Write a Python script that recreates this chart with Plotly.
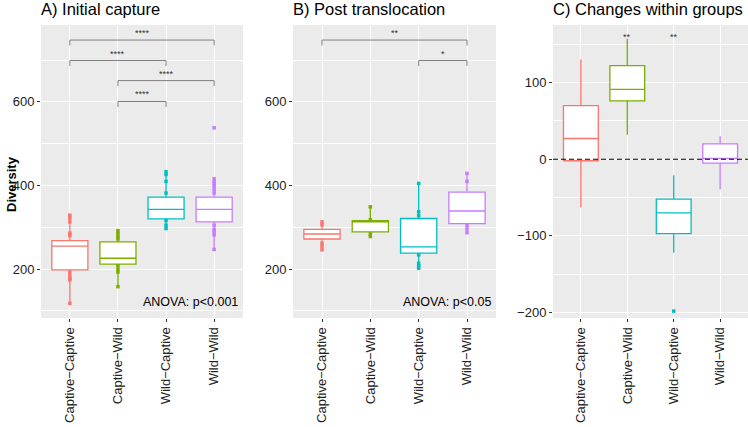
import plotly.graph_objects as go

groups = ["Captive\u2212Captive", "Captive\u2212Wild", "Wild\u2212Captive", "Wild\u2212Wild"]
colors = ["#F8766D", "#7CAE00", "#00BFC4", "#C77CFF"]

# Panel A: Initial capture
a_q1 = [198, 212, 320, 313]
a_med = [255, 226, 343, 343]
a_q3 = [268, 265, 372, 372]
a_lo = [118, 158, 297, 247]
a_hi = [329, 292, 433, 416]
a_pts = [
    [329, 322, 313, 286, 280, 193, 185, 178, 174, 118],
    [292, 285, 278, 272, 208, 200, 193, 158],
    [433, 426, 410, 382, 316, 305, 297],
    [538, 416, 410, 404, 398, 390, 382, 305, 295, 290, 282, 247],
]
a_brackets = [(0, 3, 748, "****"), (0, 2, 699, "****"), (1, 3, 651, "****"), (1, 2, 601, "****")]

# Panel B: Post translocation
b_q1 = [272, 289, 238, 309]
b_med = [284, 313, 253, 339]
b_q3 = [295, 316, 321, 384]
b_lo = [246, 277, 202, 286]
b_hi = [313, 349, 405, 429]
b_pts = [
    [313, 306, 262, 255, 246],
    [349, 318, 284, 278],
    [405, 337, 328, 234, 214, 208, 202],
    [429, 410, 305, 296, 287],
]
b_brackets = [(0, 3, 748, "**"), (2, 3, 699, "*")]

# Panel C: Changes within groups
c_q1 = [-2, 76, -97, -5]
c_med = [27, 91, -70, 1]
c_q3 = [70, 122, -52, 20]
c_lo = [-63, 32, -122, -39]
c_hi = [130, 157, -21, 30]
c_out = [[], [], [-198], []]
c_signif = [(1, "**"), (2, "**")]

W, H = 748, 427
xdom = {"A": [41 / W, 243 / W], "B": [293 / W, 496 / W], "C": [553 / W, 1.0]}
ydom = [1 - 318 / H, 1 - 25 / H]

FONT = "Liberation Sans, Arial, sans-serif"
fig = go.Figure()

panels = [
    ("x", "y", a_q1, a_med, a_q3, a_lo, a_hi, a_pts),
    ("x2", "y2", b_q1, b_med, b_q3, b_lo, b_hi, b_pts),
    ("x3", "y3", c_q1, c_med, c_q3, c_lo, c_hi, c_out),
]
for xa, ya, q1, med, q3, lo, hi, pts in panels:
    for i, g in enumerate(groups):
        fig.add_trace(go.Box(
            x=[g], q1=[q1[i]], median=[med[i]], q3=[q3[i]],
            lowerfence=[lo[i]], upperfence=[hi[i]],
            fillcolor="white", line=dict(color=colors[i], width=1.3),
            width=0.75, whiskerwidth=0, boxpoints=False,
            xaxis=xa, yaxis=ya, showlegend=False, hoverinfo="skip"))
        if pts[i]:
            fig.add_trace(go.Scatter(
                x=[g] * len(pts[i]), y=pts[i], mode="markers",
                marker=dict(symbol="square", size=3.5, color=colors[i], line=dict(width=0)),
                xaxis=xa, yaxis=ya, showlegend=False, hoverinfo="skip"))

annotations = []
# brackets
for xa, ya, brs in [("x", "y", a_brackets), ("x2", "y2", b_brackets)]:
    for i0, i1, yv, lab in brs:
        fig.add_trace(go.Scatter(
            x=[groups[i0], groups[i0], groups[i1], groups[i1]],
            y=[yv - 13, yv, yv, yv - 13], mode="lines",
            line=dict(color="#808080", width=1),
            xaxis=xa, yaxis=ya, showlegend=False, hoverinfo="skip"))
        annotations.append(dict(x=(i0 + i1) / 2, y=yv, xref=xa, yref=ya,
                                text=lab, showarrow=False, yanchor="bottom",
                                font=dict(size=9, color="#333333", family=FONT)))
for i, lab in c_signif:
    annotations.append(dict(x=i, y=160, xref="x3", yref="y3", text=lab,
                            showarrow=False, yanchor="middle",
                            font=dict(size=9, color="#333333", family=FONT)))

# titles
for key, txt in [("A", "A) Initial capture"), ("B", "B) Post translocation"),
                 ("C", "C) Changes within groups")]:
    annotations.append(dict(x=xdom[key][0], y=1 - 9 / H, xref="paper", yref="paper",
                            text=txt, showarrow=False, xanchor="left", yanchor="middle",
                            xshift=-2, font=dict(size=16.5, color="black", family=FONT)))
annotations.append(dict(x=11 / W, y=1 - 184 / H, xref="paper", yref="paper",
                        text="<b>Diversity</b>", textangle=-90, showarrow=False,
                        xanchor="center", yanchor="middle",
                        font=dict(size=13, color="black", family=FONT)))
annotations.append(dict(x=240 / W, y=121, xref="paper", yref="y", text="ANOVA: p<0.001",
                        showarrow=False, xanchor="right", yanchor="middle",
                        font=dict(size=12.5, color="black", family=FONT)))
annotations.append(dict(x=493 / W, y=121, xref="paper", yref="y2", text="ANOVA: p<0.05",
                        showarrow=False, xanchor="right", yanchor="middle",
                        font=dict(size=12.5, color="black", family=FONT)))

xcommon = dict(type="category", categoryarray=groups, categoryorder="array",
               range=[-0.6, 3.6], showgrid=True, gridcolor="white", gridwidth=1.1,
               ticks="outside", ticklen=3, tickcolor="#333", tickangle=-90,
               tickfont=dict(size=13, color="#222", family=FONT),
               zeroline=False, showline=False, fixedrange=True, automargin=False)
ycommon = dict(showgrid=True, gridcolor="white", gridwidth=1.1, ticks="outside",
               ticklen=3, tickcolor="#333", tickfont=dict(size=13, color="#222", family=FONT),
               zeroline=False, showline=False, domain=ydom, automargin=False)

fig.update_layout(
    width=W, height=H, margin=dict(l=0, r=0, t=0, b=0),
    paper_bgcolor="white", plot_bgcolor="#EBEBEB", boxmode="overlay",
    showlegend=False, annotations=annotations,
    xaxis=dict(xcommon, domain=xdom["A"], anchor="y"),
    xaxis2=dict(xcommon, domain=xdom["B"], anchor="y2"),
    xaxis3=dict(xcommon, domain=xdom["C"], anchor="y3"),
    yaxis=dict(ycommon, anchor="x", range=[83, 784], tick0=0, dtick=200,
               minor=dict(dtick=100, tick0=0, showgrid=True, gridcolor="white", gridwidth=0.5, ticks="")),
    yaxis2=dict(ycommon, anchor="x2", range=[83, 784], tick0=0, dtick=200,
                minor=dict(dtick=100, tick0=0, showgrid=True, gridcolor="white", gridwidth=0.5, ticks="")),
    yaxis3=dict(ycommon, anchor="x3", range=[-207, 175], tick0=0, dtick=100,
                minor=dict(dtick=50, tick0=0, showgrid=True, gridcolor="white", gridwidth=0.5, ticks="")),
    shapes=[dict(type="line", xref="x3 domain", yref="y3", x0=0, x1=1, y0=0, y1=0,
                 line=dict(color="black", width=1.2, dash="5px,3px"))],
)

fig.write_html("out.html", config={"displayModeBar": False},
               post_script="document.body.style.margin='0';document.body.style.overflow='hidden';")
